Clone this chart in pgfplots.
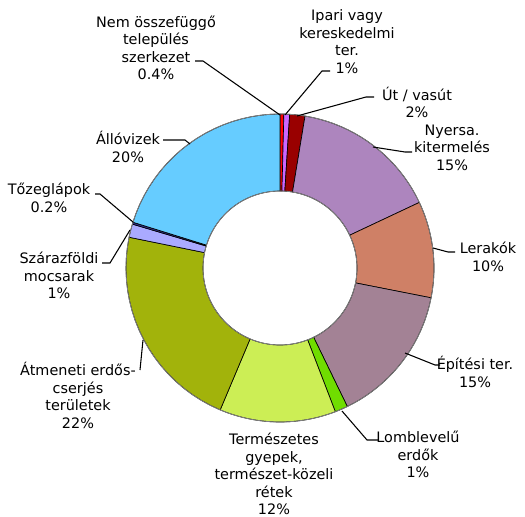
\documentclass[border=0pt]{standalone}
\usepackage{fontspec}
\setmainfont{DejaVu Sans}
\usepackage{pgfplots}
\usepackage{pgfplotstable}
\pgfplotsset{compat=1.18}

% land cover shares, clockwise from 12 o'clock
\pgfplotstableread{
pct
0.4
0.6
1.6
15.4
10.1
14.7
1.35
12.2
21.85
1.4
0.2
20.2
}\shares

\definecolor{c0}{HTML}{FF0000}
\definecolor{c1}{HTML}{CC66FF}
\definecolor{c2}{HTML}{990000}
\definecolor{c3}{HTML}{AD85BE}
\definecolor{c4}{HTML}{CF8066}
\definecolor{c5}{HTML}{A38295}
\definecolor{c6}{HTML}{70DD00}
\definecolor{c7}{HTML}{CCEE55}
\definecolor{c8}{HTML}{A2B30B}
\definecolor{c9}{HTML}{AAAAFF}
\definecolor{c10}{HTML}{333399}
\definecolor{c11}{HTML}{66CCFF}

% cumulative start / end angles (degrees)
\xdef\cumsum{0}
\foreach \i in {0,...,11}{%
  \pgfplotstablegetelem{\i}{pct}\of\shares
  \pgfmathsetmacro\a{\cumsum*3.6}%
  \pgfmathsetmacro\c{\cumsum+\pgfplotsretval}%
  \pgfmathsetmacro\b{\c*3.6}%
  \expandafter\xdef\csname sa\i\endcsname{\a}%
  \expandafter\xdef\csname sb\i\endcsname{\b}%
  \xdef\cumsum{\c}%
}

\newcommand\lbl{\fontsize{10.8}{13.1}\selectfont}

\begin{document}
\begin{tikzpicture}
\begin{axis}[
  scale only axis, width=393.75pt, height=387.75pt,
  xmin=0, xmax=525, ymin=0, ymax=517, y dir=reverse,
  hide axis, clip=false,
]
\pgfplotsinvokeforeach{0,...,11}{
  \edef\sa{\csname sa#1\endcsname}
  \edef\sb{\csname sb#1\endcsname}
  \addplot[fill=c#1, draw=black, line width=0.5pt, line join=round,
    variable=\t, samples at={0,...,42}]
    ({280+ifthenelse(\t<=20,154,ifthenelse(\t<=41,77,154))*sin(ifthenelse(\t<=20,\sa+(\sb-\sa)*\t/20,ifthenelse(\t<=41,\sb-(\sb-\sa)*(\t-21)/20,\sa)))},
     {268-ifthenelse(\t<=20,154,ifthenelse(\t<=41,77,154))*cos(ifthenelse(\t<=20,\sa+(\sb-\sa)*\t/20,ifthenelse(\t<=41,\sb-(\sb-\sa)*(\t-21)/20,\sa)))});
}
\addplot[gray, line width=0.6pt, domain=0:360, samples=181]
  ({280+154*sin(x)}, {268-154*cos(x)});
\addplot[gray, line width=0.6pt, domain=0:360, samples=121]
  ({280+77*sin(x)}, {268-77*cos(x)});

% leader lines
\draw[line width=0.8pt] (195,61) -- (203,61) -- (280,115);
\draw[line width=0.8pt] (330,71) -- (322,71) -- (285,115);
\draw[line width=0.8pt] (374,97) -- (366,97) -- (297,116);
\draw[line width=0.8pt] (412,152) -- (405,152) -- (373,147);
\draw[line width=0.8pt] (455,252) -- (448,252) -- (433,248);
\draw[line width=0.8pt] (440,365) -- (435,365) -- (405,353);
\draw[line width=0.8pt] (378,440) -- (367,440) -- (342,411);
\draw[line width=0.8pt] (140,370) -- (143,340);
\draw[line width=0.8pt] (102,263) -- (110,263) -- (130,230);
\draw[line width=0.8pt] (95,194) -- (100,194) -- (133,222);
\draw[line width=0.8pt] (163,140) -- (185,140) -- (190,144);

% labels
\begin{scope}[every node/.style={align=center, font=\lbl, inner sep=0pt}]
\node at (156,48) {Nem összefüggő\\település\\szerkezet\\0.4\%};
\node at (347,41.5) {Ipari vagy\\kereskedelmi\\ter.\\1\%};
\node at (417,102.5) {Út / vasút\\2\%};
\node at (452,147.5) {Nyersa.\\kitermelés\\15\%};
\node at (488,257) {Lerakók\\10\%};
\node at (475,372) {Építési ter.\\15\%};
\node at (418,454.5) {Lomblevelű\\erdők\\1\%};
\node at (274,474) {Természetes\\gyepek,\\természet-közeli\\rétek\\12\%};
\node at (78,395.5) {Átmeneti erdős-\\cserjés\\területek\\22\%};
\node at (59,275.5) {Szárazföldi\\mocsarak\\1\%};
\node at (49,198) {Tőzeglápok\\0.2\%};
\node at (128,147) {Állóvizek\\20\%};
\end{scope}
\end{axis}
\pgfresetboundingbox
\path (current axis.south west) rectangle (current axis.north east);
\end{tikzpicture}
\end{document}
